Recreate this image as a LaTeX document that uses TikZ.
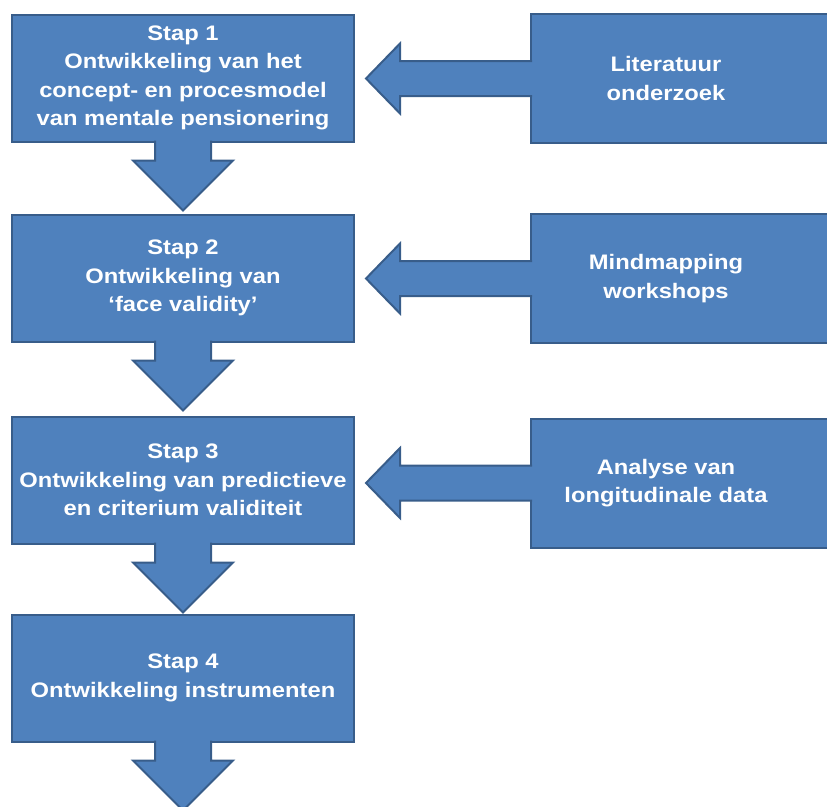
\documentclass[tikz,border=0pt]{standalone}
\usepackage{fontspec}
\setmainfont{Liberation Sans}[FakeStretch=1.13]
\usepackage{xcolor}
\usepackage{tikz}
\usetikzlibrary{calc}
\definecolor{stapBlue}{RGB}{79,129,189}
\definecolor{stapBlueDark}{RGB}{56,93,138}

\begin{document}
\begin{tikzpicture}[x=1pt,y=-1pt,
    stapbox/.style={draw=stapBlueDark, fill=stapBlue, line width=2pt,
        minimum width=342, minimum height=127, inner sep=0pt,
        text=white, align=center, font=\fontsize{21}{28.5}\selectfont\bfseries},
    bronbox/.style={draw=stapBlueDark, fill=stapBlue, line width=2pt,
        minimum width=309, minimum height=129, inner sep=0pt},
    bronlabel/.style={text=white, align=center, inner sep=0pt,
        font=\fontsize{21}{28.5}\selectfont\bfseries},
    blokpijl/.style={draw=stapBlueDark, fill=stapBlue, line width=2pt, line join=miter}]
    \useasboundingbox (0,0) rectangle (827,806);

    % steps
    \node[stapbox] (stap1) at (183,78) {Stap 1\\Ontwikkeling van het\\concept- en procesmodel\\van mentale pensionering};
    \node[stapbox] (stap2) at (183,278) {Stap 2\\Ontwikkeling van\\‘face validity’};
    \node[stapbox] (stap3) at (183,480) {Stap 3\\Ontwikkeling van predictieve\\en criterium validiteit};
    \node[stapbox] (stap4) at (183,678) {Stap 4\\Ontwikkeling instrumenten};

    % sources
    \node[bronbox] (bron1) at (685.5,78.5) {};
    \node[bronbox] (bron2) at (685.5,278.5) {};
    \node[bronbox] (bron3) at (685.5,483) {};
    \node[bronlabel] (bron1text) at (666,78.5) {Literatuur\\onderzoek};
    \node[bronlabel] (bron2text) at (666,278.5) {Mindmapping\\workshops};
    \node[bronlabel] (bron3text) at (666,483) {Analyse van\\longitudinale data};

    % down arrows
    \foreach \a in {1,...,4} {
        \path[blokpijl] ($(stap\a.south)+(-28,-2)$) -- ++(0,20) -- ++(-22,0)
            -- ++(50,50) -- ++(50,-50) -- ++(-22,0) -- ++(0,-20);
    }

    % arrows from sources to steps
    \foreach \a in {1,2,3} {
        \path[blokpijl] ($(bron\a.west)+(2,-17.5)$) -- ++(-132,0) -- ++(0,-17.5)
            -- ++(-34,35) -- ++(34,35) -- ++(0,-17.5) -- ++(132,0);
    }
\end{tikzpicture}
\end{document}
